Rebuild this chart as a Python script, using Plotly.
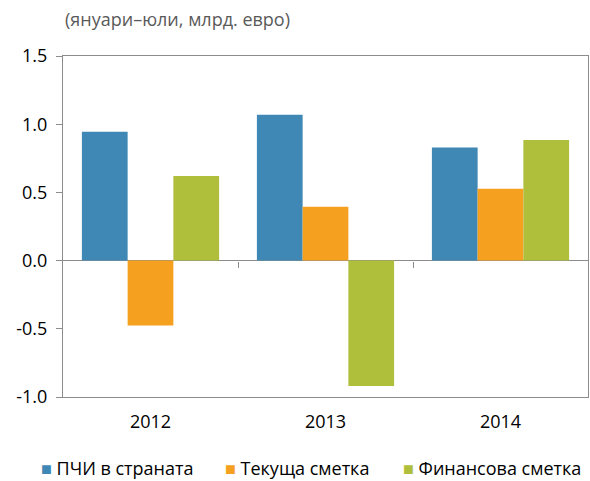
import plotly.graph_objects as go

categories = ["2012", "2013", "2014"]
fdi = [0.944, 1.07, 0.83]
current = [-0.475, 0.395, 0.527]
financial = [0.62, -0.92, 0.885]
series_names = ["ПЧИ в страната", "Текуща сметка", "Финансова сметка"]
colors = ["#3F87B4", "#F5A01E", "#AFBF3C"]
y_ticks = [-1.0, -0.5, 0.0, 0.5, 1.0, 1.5]
y_tick_text = ["-1.0", "-0.5", "0.0", "0.5", "1.0", "1.5"]

font_family = "Open Sans, Noto Sans, sans-serif"
FS = 18

fig = go.Figure()
for name, vals, col in zip(series_names, [fdi, current, financial], colors):
    fig.add_trace(go.Bar(x=[0, 1, 2], y=vals, name=name, showlegend=False,
                         marker=dict(color=col, line=dict(width=0))))

# invisible trace for zero-line tick axis
fig.add_trace(go.Scatter(x=[0, 1, 2], y=[0, 0, 0], xaxis="x2", mode="lines",
                         line=dict(width=0), showlegend=False, hoverinfo="skip"))

# legend as annotations (colored square + label)
legend_x = [-0.046, 0.305, 0.644]
annotations = [dict(text="(януари–юли, млрд. евро)", xref="paper", yref="paper",
                    x=0, y=1.0, yshift=37, xanchor="left", yanchor="middle", showarrow=False,
                    font=dict(size=FS, color="#595959"))]
for name, col, lx in zip(series_names, colors, legend_x):
    annotations.append(dict(
        text=f'<span style="color:{col}">■</span> {name}',
        xref="paper", yref="paper", x=lx, y=-0.208, xanchor="left", yanchor="middle",
        showarrow=False, font=dict(size=FS, color="black")))

fig.update_layout(
    width=598, height=481, autosize=False,
    margin=dict(l=63, r=10, t=56, b=84),
    plot_bgcolor="white", paper_bgcolor="white",
    barmode="group", bargap=0.216, bargroupgap=0,
    font=dict(family=font_family, size=FS, color="black"),
    showlegend=False,
    xaxis=dict(range=[-0.5, 2.5], tickvals=[0, 1, 2], ticktext=categories,
               showline=True, linecolor="#8C8C8C", linewidth=1, mirror=True,
               showgrid=False, zeroline=False, ticks="", tickfont=dict(size=FS),
               ticklabelstandoff=8, automargin=False),
    xaxis2=dict(range=[-0.5, 2.5], overlaying="x", anchor="free", position=0.4,
                tickvals=[0.5, 1.5], ticks="outside", ticklen=6, tickcolor="#8C8C8C",
                showticklabels=False, showgrid=False, zeroline=False, showline=False,
                automargin=False),
    yaxis=dict(range=[-1.0, 1.5], tickvals=y_ticks, ticktext=y_tick_text,
               showline=True, linecolor="#8C8C8C", linewidth=1, mirror=True,
               ticks="outside", ticklen=6, tickcolor="#8C8C8C",
               showgrid=False, zeroline=True, zerolinecolor="#8C8C8C", zerolinewidth=1,
               tickfont=dict(size=FS), ticklabelstandoff=5, automargin=False),
    annotations=annotations,
)

post = ("document.body.style.margin='0';document.body.style.overflow='hidden';")
fig.write_html("out.html", post_script=post,
               config={"responsive": False, "displayModeBar": False})
